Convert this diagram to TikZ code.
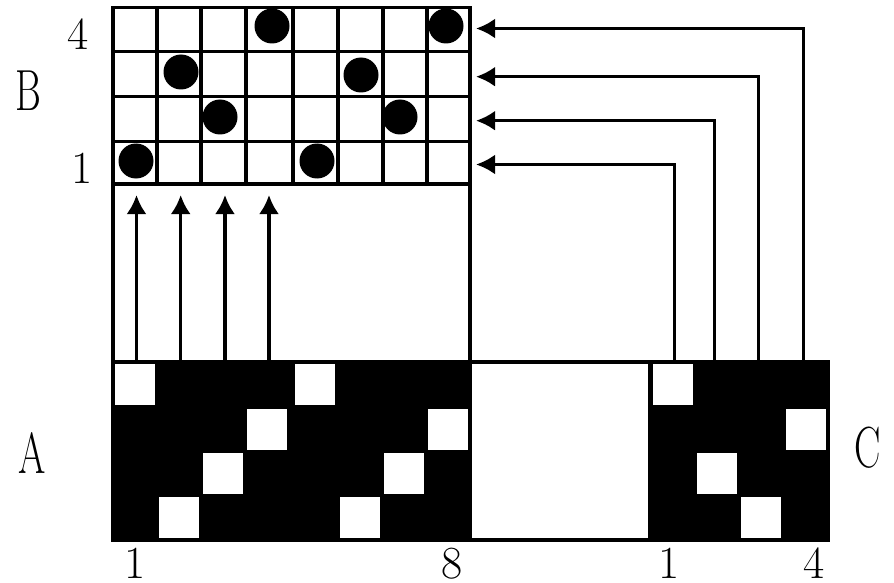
\documentclass[tikz,border=0pt]{standalone}
\usetikzlibrary{arrows.meta}
\begin{document}
\begin{tikzpicture}[x=1pt,y=-1pt,
  ln/.style={line width=3.6pt},
  arr/.style={line width=3.4pt,-{Latex[length=19pt,width=20pt]}},
  dot/.style={circle,fill=black,minimum size=35pt,inner sep=0pt},
  digit/.style={font=\fontsize{46}{46}\selectfont,anchor=base,inner sep=0pt},
  letter/.style={font=\fontsize{58}{58}\selectfont,anchor=base,inner sep=0pt}]
\useasboundingbox (0,0) rectangle (894,583);
% block A and C (black with white squares)
\fill[black] (111,360) rectangle (472,542);
\fill[black] (648,360) rectangle (830,542);
\foreach \x/\y in {115/364,295/364,247/409,428/409,203/453,384/453,159/497,340/497,
                   653/364,786/409,697/453,741/497}
  \fill[white] (\x,\y) rectangle ++(40,41);
% middle white box
\draw[ln] (470,362) rectangle (650,540);
% grid B
\draw[ln] (113,7.5) rectangle (470,184);
\foreach \x in {157,201,246,293,338,383,427}
  \draw[ln] (\x,7.5) -- (\x,184);
\foreach \y in {51.5,96.5,141.5}
  \draw[ln] (113,\y) -- (470,\y);
% box under grid
\draw[ln] (113,184) -- (113,362) -- (470,362) -- (470,184);
% dots
\foreach \x/\y [count=\i] in {272/26,446/26,181/72,361/75,220/117,400/117,136/161,317/161}
  \node[dot] (d\i) at (\x,\y) {};
% up arrows from A
\foreach \x [count=\i] in {136.5,180.7,225,269}{
  \coordinate (ua\i) at (\x,361);
  \coordinate (ub\i) at (\x,195);
  \draw[arr] (ua\i) -- (ub\i);
}
% arrows from C to B
\foreach \x/\y [count=\i] in {674.7/164.5,714.7/120.7,758.7/76.7,803.7/28.5}{
  \coordinate (ca\i) at (\x,361);
  \coordinate (cb\i) at (476,\y);
  \draw[arr] (ca\i) |- (cb\i);
}
% labels
\node[digit] (l4) at (78,50) {4};
\node[digit] (l1) at (82,183) {1};
\node[letter] (lB) at (28,111) {\scalebox{0.68}[1]{B}};
\node[letter] (lA) at (32,473) {\scalebox{0.68}[1]{A}};
\node[letter] (lC) at (868,467) {\scalebox{0.68}[1]{C}};
\node[digit] (b1) at (135,578) {1};
\node[digit] (b8) at (452,578) {8};
\node[digit] (c1) at (669,578) {1};
\node[digit] (c4) at (814,578) {4};
\end{tikzpicture}
\end{document}
